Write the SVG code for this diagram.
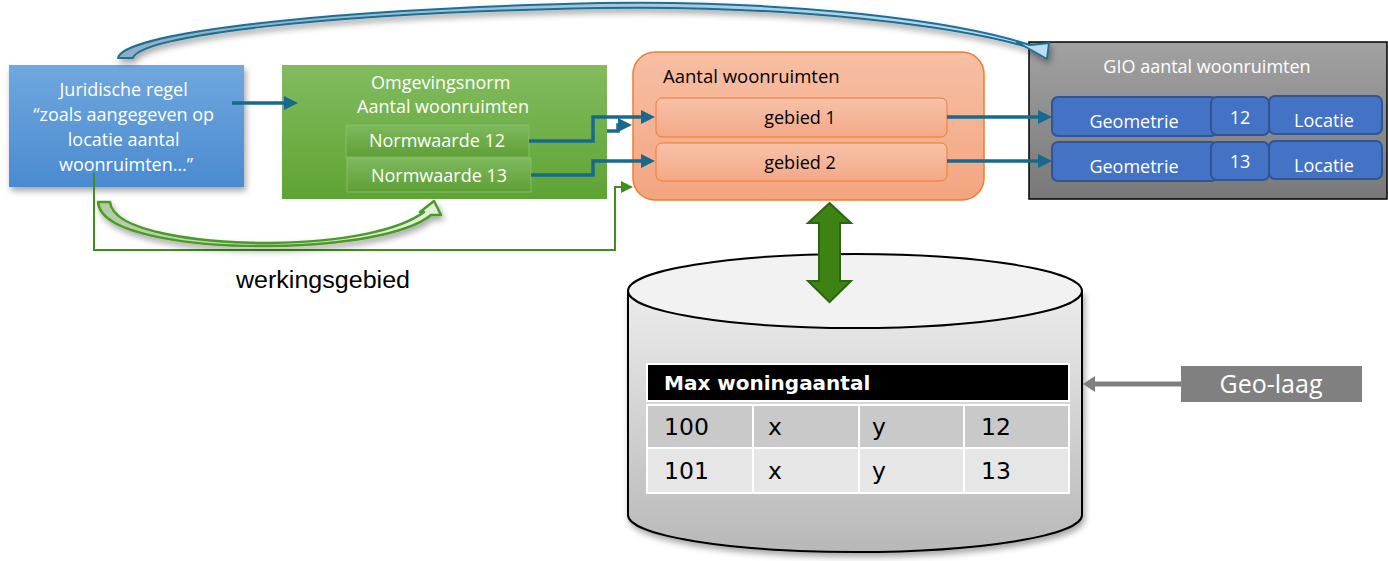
<svg xmlns="http://www.w3.org/2000/svg" width="1388" height="561" viewBox="0 0 1388 561">
<style>
  .w { font-family: "Open Sans", "Liberation Sans", sans-serif; fill: #ffffff; }
  .b { font-family: "Open Sans", "Liberation Sans", sans-serif; fill: #000000; }
  .t { font-family: "DejaVu Sans", Verdana, sans-serif; fill: #000000; font-size: 23.5px; }
  .conn { fill: none; stroke: #17698d; stroke-width: 3.5; }
  .gconn { fill: none; stroke: #3f8f1f; stroke-width: 2; }
  .gio { fill: #4472c4; stroke: #2f5597; stroke-width: 2; }
</style>
<defs>
  <linearGradient id="gBlue" x1="0" y1="0" x2="0" y2="1">
    <stop offset="0" stop-color="#70a8de"/>
    <stop offset="1" stop-color="#4a8ad0"/>
  </linearGradient>
  <linearGradient id="gGreen" x1="0" y1="0" x2="0" y2="1">
    <stop offset="0" stop-color="#83bc5f"/>
    <stop offset="1" stop-color="#5ea334"/>
  </linearGradient>
  <linearGradient id="gNorm" x1="0" y1="0" x2="0" y2="1">
    <stop offset="0" stop-color="#7fb95d"/>
    <stop offset="1" stop-color="#5d9f35"/>
  </linearGradient>
  <linearGradient id="gOrange" x1="0" y1="0" x2="0" y2="1">
    <stop offset="0" stop-color="#f7bfa4"/>
    <stop offset="1" stop-color="#f4a580"/>
  </linearGradient>
  <linearGradient id="gGeb" x1="0" y1="0" x2="0" y2="1">
    <stop offset="0" stop-color="#f7c2aa"/>
    <stop offset="1" stop-color="#f4a886"/>
  </linearGradient>
  <linearGradient id="gGray" x1="0" y1="0" x2="0" y2="1">
    <stop offset="0" stop-color="#a2a2a2"/>
    <stop offset="1" stop-color="#787878"/>
  </linearGradient>
  <linearGradient id="gCyl" x1="0" y1="0" x2="0" y2="1">
    <stop offset="0" stop-color="#ececec"/>
    <stop offset="1" stop-color="#b8b8b8"/>
  </linearGradient>
  <linearGradient id="gTopArrow" x1="0" y1="0" x2="1" y2="0">
    <stop offset="0" stop-color="#8eaec6"/>
    <stop offset="1" stop-color="#bcdcf3"/>
  </linearGradient>
  <linearGradient id="gGreenArrow" x1="0" y1="0" x2="1" y2="0">
    <stop offset="0" stop-color="#b2cca2"/>
    <stop offset="1" stop-color="#e4f1da"/>
  </linearGradient>
  <filter id="shadow" x="-10%" y="-10%" width="130%" height="140%">
    <feDropShadow dx="2" dy="4" stdDeviation="3" flood-color="#000" flood-opacity="0.35"/>
  </filter>
  <marker id="ah" markerWidth="14" markerHeight="14" refX="8" refY="7" orient="auto" markerUnits="userSpaceOnUse">
    <path d="M0,0 L14,7 L0,14 Z" fill="#17698d"/>
  </marker>
  <marker id="gah" markerWidth="12" markerHeight="12" refX="6" refY="6" orient="auto" markerUnits="userSpaceOnUse">
    <path d="M0,0 L12,6 L0,12 Z" fill="#3f8f1f"/>
  </marker>
  <marker id="grah" markerWidth="12" markerHeight="16" refX="4" refY="8" orient="auto" markerUnits="userSpaceOnUse">
    <path d="M0,0 L12,8 L0,16 Z" fill="#808080"/>
  </marker>
</defs>

<rect width="1388" height="561" fill="#ffffff"/>

<g id="juridische-regel">
  <rect x="9" y="65" width="235" height="122" fill="url(#gBlue)" filter="url(#shadow)"/>
  <text class="w" font-size="18" text-anchor="middle">
    <tspan x="126" y="96">Juridische regel</tspan>
    <tspan x="126" y="121">“zoals aangegeven op</tspan>
    <tspan x="126" y="146">locatie aantal</tspan>
    <tspan x="126" y="171">woonruimten…”</tspan>
  </text>
</g>

<g id="omgevingsnorm">
  <rect x="282" y="65" width="325" height="134" fill="url(#gGreen)"/>
  <text class="w" font-size="18" text-anchor="middle">
    <tspan x="443" y="89">Omgevingsnorm</tspan>
    <tspan x="443" y="113">Aantal woonruimten</tspan>
  </text>
  <g id="normwaarde-12">
    <rect x="346" y="125" width="183" height="32" fill="url(#gNorm)" stroke="#8cc46c" stroke-width="0.8"/>
    <text class="w" font-size="18" x="437" y="147" text-anchor="middle">Normwaarde 12</text>
  </g>
  <g id="normwaarde-13">
    <rect x="347" y="158" width="184" height="34" fill="url(#gNorm)" stroke="#8cc46c" stroke-width="0.8"/>
    <text class="w" font-size="18" x="439" y="182" text-anchor="middle">Normwaarde 13</text>
  </g>
</g>

<g id="aantal-woonruimten">
  <rect x="633" y="52" width="351" height="148" rx="22" ry="22" fill="url(#gOrange)" stroke="#ed7d31" stroke-width="1.5"/>
  <text class="b" font-size="18.5" x="663" y="83">Aantal woonruimten</text>
  <g id="gebied-1">
    <rect x="656" y="98" width="291" height="39" rx="6" ry="6" fill="url(#gGeb)" stroke="#ed7d31" stroke-width="1"/>
    <text class="b" font-size="18" x="800" y="124" text-anchor="middle">gebied 1</text>
  </g>
  <g id="gebied-2">
    <rect x="656" y="143" width="291" height="38" rx="6" ry="6" fill="url(#gGeb)" stroke="#ed7d31" stroke-width="1"/>
    <text class="b" font-size="18" x="800" y="169" text-anchor="middle">gebied 2</text>
  </g>
</g>

<g id="gio">
  <rect x="1029" y="42" width="358" height="157" fill="url(#gGray)" stroke="#000000" stroke-width="1.5"/>
  <text class="w" font-size="18" x="1207" y="73" text-anchor="middle">GIO aantal woonruimten</text>
  <g id="gio-row-1">
    <rect class="gio" x="1052" y="97" width="165" height="39" rx="6" ry="6"/>
    <rect class="gio" x="1211" y="97" width="58" height="38" rx="6" ry="6"/>
    <rect class="gio" x="1269" y="96" width="113" height="38" rx="6" ry="6"/>
    <text class="w" font-size="18" x="1134" y="128" text-anchor="middle">Geometrie</text>
    <text class="w" font-size="18" x="1240" y="124" text-anchor="middle">12</text>
    <text class="w" font-size="18" x="1324" y="127" text-anchor="middle">Locatie</text>
  </g>
  <g id="gio-row-2">
    <rect class="gio" x="1052" y="142" width="165" height="39" rx="6" ry="6"/>
    <rect class="gio" x="1211" y="142" width="58" height="38" rx="6" ry="6"/>
    <rect class="gio" x="1269" y="141" width="113" height="38" rx="6" ry="6"/>
    <text class="w" font-size="18" x="1134" y="173" text-anchor="middle">Geometrie</text>
    <text class="w" font-size="18" x="1240" y="168" text-anchor="middle">13</text>
    <text class="w" font-size="18" x="1324" y="172" text-anchor="middle">Locatie</text>
  </g>
</g>

<g id="database">
  <path d="M628,291 L628,515 A227,37 0 0 0 1082,515 L1082,291 Z" fill="url(#gCyl)" stroke="#000000" stroke-width="2" filter="url(#shadow)"/>
  <ellipse cx="855" cy="291" rx="227" ry="37" fill="#f2f2f2" stroke="#000000" stroke-width="2"/>
  <g id="table">
    <rect x="647" y="364" width="422" height="37" fill="#000000" stroke="#ffffff" stroke-width="2"/>
    <text x="664" y="390" font-family="'DejaVu Sans', Verdana, sans-serif" font-weight="bold" font-size="20" fill="#ffffff">Max woningaantal</text>
    <rect x="647" y="405" width="422" height="43" fill="#c9c9c9" stroke="#ffffff" stroke-width="2"/>
    <rect x="647" y="448" width="422" height="45" fill="#e6e6e6" stroke="#ffffff" stroke-width="2"/>
    <path d="M753,405 V493 M859,405 V493 M964,405 V493" stroke="#ffffff" stroke-width="2"/>
    <text class="t" x="664" y="435">100</text>
    <text class="t" x="768" y="435">x</text>
    <text class="t" x="872" y="435">y</text>
    <text class="t" x="981" y="435">12</text>
    <text class="t" x="664" y="479">101</text>
    <text class="t" x="768" y="479">x</text>
    <text class="t" x="872" y="479">y</text>
    <text class="t" x="981" y="479">13</text>
  </g>
</g>

<g id="geo-laag">
  <rect x="1181" y="366" width="181" height="36" fill="#808080"/>
  <text class="w" font-size="25" x="1271" y="393" text-anchor="middle">Geo-laag</text>
</g>

<g id="werkingsgebied-label">
  <text x="236" y="288" font-family="'Liberation Sans', Arial, sans-serif" font-size="23" fill="#000000" textLength="174" lengthAdjust="spacingAndGlyphs">werkingsgebied</text>
</g>

<g id="connectors">
  <path class="conn" d="M232,103 H292" marker-end="url(#ah)"/>
  <path class="conn" d="M529,141 H593 V117 H649" marker-end="url(#ah)"/>
  <path class="conn" d="M607,131 H618 V125 H626" marker-end="url(#ah)"/>
  <path class="conn" d="M531,175 H593 V161 H649" marker-end="url(#ah)"/>
  <path class="conn" d="M947,117 H1046" marker-end="url(#ah)"/>
  <path class="conn" d="M947,161 H1046" marker-end="url(#ah)"/>
  <path class="gconn" d="M94,173 V250 H615 V187 H627" marker-end="url(#gah)"/>
  <path d="M1181,384 H1091" fill="none" stroke="#808080" stroke-width="5" marker-end="url(#grah)"/>
  <polygon id="double-arrow" points="829.5,203 851,223 840,223 840,281 851,281 829.5,302 808,281 819,281 819,223 808,223" fill="#3d8212" stroke="#2b6610" stroke-width="2" stroke-linejoin="miter"/>
  <path id="top-arrow" filter="url(#shadow)" d="M118,58 C122,35 300,10 600,3 C800,0 960,22 1030,45 L1049,43 L1047,59 L1017,42 L1024,46 C958,27 800,5 600,8 C320,13 140,36 133,58 Z" fill="url(#gTopArrow)" stroke="#1c6f93" stroke-width="2" stroke-linejoin="round"/>
  <path id="green-arrow" filter="url(#shadow)" d="M98,202 C100,236 200,247 270,246 C345,245 408,234 431,215 L441,215 L434,201 L420,212 L424,212 C400,230 345,242 270,243 C200,243 113,232 110,202 Z" fill="url(#gGreenArrow)" stroke="#4a9a27" stroke-width="2.5" stroke-linejoin="round"/>
</g>
</svg>
